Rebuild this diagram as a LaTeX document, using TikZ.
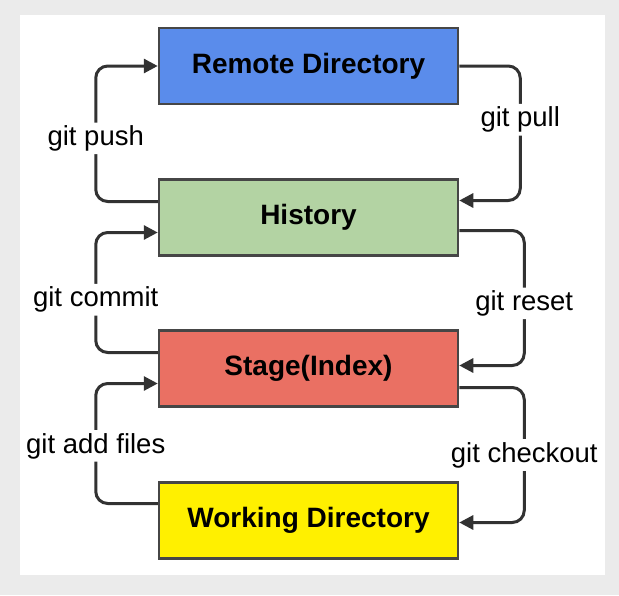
\documentclass[tikz,border=0pt]{standalone}
\usepackage{fontspec}
\setmainfont{Liberation Sans}
\usepackage{tikz}
\usetikzlibrary{arrows.meta}
\definecolor{remote}{RGB}{90, 140, 235}
\definecolor{history}{RGB}{179, 211, 163}
\definecolor{stage}{RGB}{234, 112, 99}
\definecolor{working}{RGB}{255, 240, 0}
\definecolor{edge}{RGB}{70, 70, 70}
\definecolor{wire}{RGB}{50, 50, 50}
\definecolor{backdrop}{RGB}{235, 235, 235}
\begin{document}
\begin{tikzpicture}[x=1pt, y=-1pt,
    area/.style={draw=edge, line width=2.5pt, minimum width=299pt, minimum height=76pt,
      font=\fontsize{28}{32}\selectfont\bfseries},
    flow/.style={draw=wire, line width=3pt, rounded corners=12pt,
      -{Triangle[length=14pt, width=14pt]}},
    cmd/.style={fill=white, inner sep=3pt, font=\fontsize{27.5}{32}\selectfont}]

  \fill[backdrop] (0, 0) rectangle (619, 595);
  \fill[white] (20, 15) rectangle (605, 575);

  \node[area, fill=remote]  (remote)  at (308.5, 66)    {Remote Directory};
  \node[area, fill=history] (history) at (308.5, 217.5) {History};
  \node[area, fill=stage]   (stage)   at (308.5, 368.5) {Stage(Index)};
  \node[area, fill=working] (working) at (308.5, 520.5) {Working Directory};

  % left side, going up
  \draw[flow] ([yshift=16pt]history.west) -- ++(-62, 0) |- (remote.west)
    node[cmd, pos=0.233] {git push};
  \draw[flow] ([yshift=16pt]stage.west) -- ++(-62, 0) |- ([yshift=-15pt]history.west)
    node[cmd, pos=0.22] {git commit};
  \draw[flow] ([yshift=17pt]working.west) -- ++(-62, 0) |- ([yshift=-15pt]stage.west)
    node[cmd, pos=0.24] {git add files};

  % right side, going down
  \draw[flow] (remote.east) -- ++(61, 0) |- ([yshift=17pt]history.east)
    node[cmd, pos=0.2] {git pull};
  \draw[flow] ([yshift=-13pt]history.east) -- ++(65, 0) |- ([yshift=3pt]stage.east)
    node[cmd, pos=0.27] {git reset};
  \draw[flow] ([yshift=-19pt]stage.east) -- ++(65, 0) |- ([yshift=-2pt]working.east)
    node[cmd, pos=0.25] {git checkout};

\end{tikzpicture}
\end{document}
